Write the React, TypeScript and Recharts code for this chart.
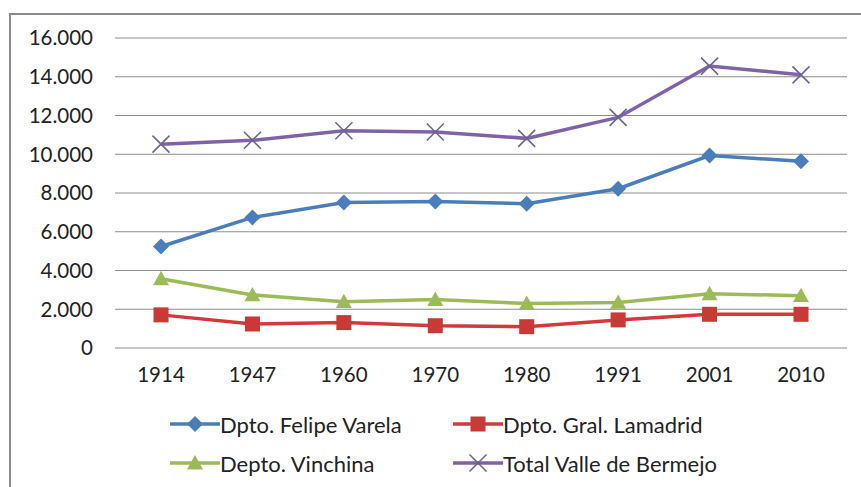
import React from "react";
import { LineChart, Line, XAxis, YAxis, CartesianGrid } from "recharts";

const years = ["1914", "1947", "1960", "1970", "1980", "1991", "2001", "2010"];
const felipeVarela = [5240, 6740, 7510, 7560, 7450, 8220, 9930, 9640];
const lamadrid = [1710, 1240, 1310, 1150, 1100, 1450, 1740, 1740];
const vinchina = [3570, 2740, 2390, 2500, 2300, 2350, 2800, 2700];
const totalBermejo = [10520, 10720, 11210, 11150, 10820, 11900, 14550, 14100];
const yTicks = [0, 2000, 4000, 6000, 8000, 10000, 12000, 14000, 16000];

const seriesNames = [
  "Dpto. Felipe Varela",
  "Dpto. Gral. Lamadrid",
  "Depto. Vinchina",
  "Total Valle de Bermejo",
];

const data = years.map((y, i) => ({
  year: y,
  fv: felipeVarela[i],
  gl: lamadrid[i],
  vi: vinchina[i],
  tv: totalBermejo[i],
}));

const FONT = "Lato, 'Open Sans', sans-serif";

type Shape = "diamond" | "square" | "triangle" | "x";

const series: { key: string; name: string; color: string; marker: string; shape: Shape }[] = [
  { key: "fv", name: seriesNames[0], color: "#4A7EBB", marker: "#4A7EBB", shape: "diamond" },
  { key: "gl", name: seriesNames[1], color: "#D3393A", marker: "#C93A36", shape: "square" },
  { key: "vi", name: seriesNames[2], color: "#9BBB59", marker: "#9BBB59", shape: "triangle" },
  { key: "tv", name: seriesNames[3], color: "#7E63A8", marker: "#6B6690", shape: "x" },
];

function Marker({ cx, cy, shape, color }: { cx: number; cy: number; shape: Shape; color: string }) {
  if (shape === "diamond") {
    const r = 8;
    return <polygon points={`${cx},${cy - r} ${cx + r},${cy} ${cx},${cy + r} ${cx - r},${cy}`} fill={color} />;
  }
  if (shape === "square") {
    const s = 15;
    return <rect x={cx - s / 2} y={cy - s / 2} width={s} height={s} fill={color} />;
  }
  if (shape === "triangle") {
    const r = 8;
    return <polygon points={`${cx},${cy - r} ${cx + r},${cy + r * 0.8} ${cx - r},${cy + r * 0.8}`} fill={color} />;
  }
  const r = 8.5;
  return (
    <g stroke={color} strokeWidth={1.6}>
      <line x1={cx - r} y1={cy - r} x2={cx + r} y2={cy + r} />
      <line x1={cx - r} y1={cy + r} x2={cx + r} y2={cy - r} />
    </g>
  );
}

const fmt = (v: number) => (v === 0 ? "0" : `${v / 1000}.000`);

function LegendItem({ s, left, top }: { s: (typeof series)[number]; left: number; top: number }) {
  return (
    <div style={{ position: "absolute", left, top, height: 26, display: "flex", alignItems: "center" }}>
      <svg width={50} height={20} style={{ display: "block" }}>
        <line x1={0} y1={10} x2={50} y2={10} stroke={s.color} strokeWidth={3.5} />
        <Marker cx={25} cy={10} shape={s.shape} color={s.marker} />
      </svg>
      <span style={{ fontFamily: FONT, fontSize: 22, color: "#222", whiteSpace: "nowrap" }}>{s.name}</span>
    </div>
  );
}

export default function App() {
  return (
    <div style={{ position: "absolute", left: 0, top: 0, width: 861, height: 487, background: "#fff", overflow: "hidden" }}>
      <div
        style={{
          position: "absolute",
          left: 9,
          top: 13,
          width: 860,
          height: 480,
          borderLeft: "2px solid #8a8a8a",
          borderTop: "2px solid #8a8a8a",
        }}
      />
      <div style={{ position: "absolute", left: 0, top: 0 }}>
        <LineChart width={861} height={487} data={data} margin={{ top: 38, right: 14, bottom: 109, left: 0 }}>
          <CartesianGrid vertical={false} stroke="#8c8c8c" strokeWidth={1} />
          <XAxis
            dataKey="year"
            axisLine={false}
            tickLine={false}
            height={30}
            tickMargin={13}
            padding={{ left: 46, right: 46 }}
            tick={{ fill: "#222", fontSize: 20.5, fontFamily: FONT }}
          />
          <YAxis
            width={115}
            domain={[0, 16000]}
            ticks={yTicks}
            tickFormatter={fmt}
            axisLine={false}
            tickLine={false}
            tickMargin={16}
            tick={{ fill: "#222", fontSize: 20.5, fontFamily: FONT }}
          />
          {series.map((s) => (
            <Line
              key={s.key}
              dataKey={s.key}
              name={s.name}
              stroke={s.color}
              strokeWidth={3.5}
              isAnimationActive={false}
              dot={(p: any) => <Marker key={`${s.key}-${p.index}`} cx={p.cx} cy={p.cy} shape={s.shape} color={s.marker} />}
              activeDot={false}
            />
          ))}
        </LineChart>
      </div>
      <LegendItem s={series[0]} left={170} top={411} />
      <LegendItem s={series[1]} left={453} top={411} />
      <LegendItem s={series[2]} left={170} top={450} />
      <LegendItem s={series[3]} left={453} top={450} />
    </div>
  );
}
